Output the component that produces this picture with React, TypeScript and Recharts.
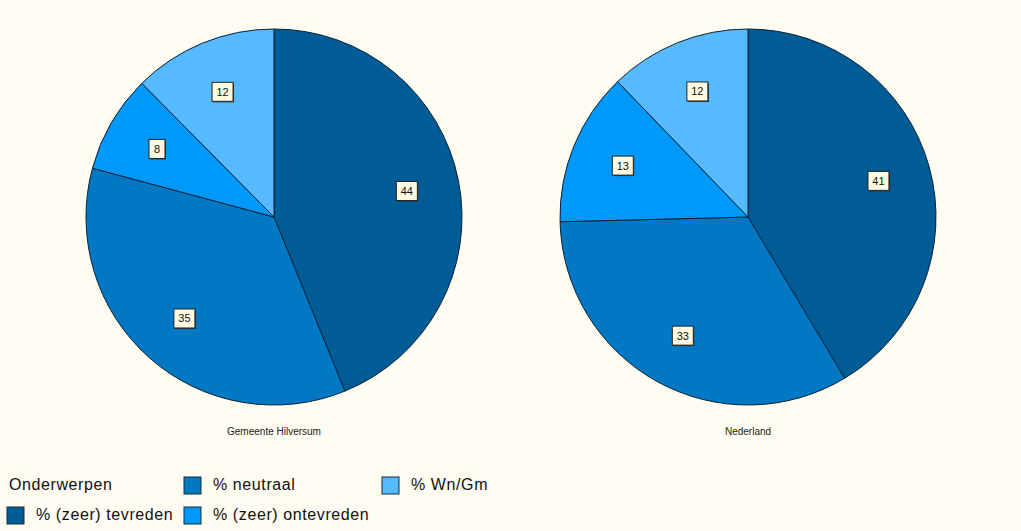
import React from "react";
import { PieChart, Pie, Cell, Legend } from "recharts";

const categories = ["% (zeer) tevreden", "% neutraal", "% (zeer) ontevreden", "% Wn/Gm"];
// shares; labels show them rounded
const hilversumValues = [43.8, 35.3, 8.4, 12.4];
const nederlandValues = [41.4, 33.2, 13.2, 12.2];
const panelTitles = ["Gemeente Hilversum", "Nederland"];
const legendTitle = "Onderwerpen";
const colors = ["#005C97", "#0078C4", "#0099FA", "#55BAFF"];

const hilversumData = categories.map((name, i) => ({ name, value: hilversumValues[i] }));
const nederlandData = categories.map((name, i) => ({ name, value: nederlandValues[i] }));

const RAD = Math.PI / 180;

const renderLabel = (props: any) => {
  const { cx, cy, midAngle, outerRadius, value } = props;
  const r = outerRadius * 0.72;
  const x = cx + r * Math.cos(-midAngle * RAD);
  const y = cy + r * Math.sin(-midAngle * RAD);
  const txt = String(Math.round(value));
  const w = txt.length > 1 ? 21 : 16;
  const h = 19;
  return (
    <g>
      <rect x={x - w / 2 + 1} y={y - h / 2 + 1} width={w} height={h} fill="#333" />
      <rect x={x - w / 2} y={y - h / 2} width={w} height={h} fill="#FFFBE3" stroke="#222" strokeWidth={1} />
      <text x={x} y={y + 4} textAnchor="middle" fontSize={11} fontFamily="Liberation Sans, Arial, sans-serif" fill="#111">
        {txt}
      </text>
    </g>
  );
};

const legendFont = "Liberation Sans, Arial, sans-serif";

const LegendContent = () => {
  const items = [
    { x: 184, y: 477, c: 1 },
    { x: 382, y: 477, c: 3 },
    { x: 7, y: 507, c: 0 },
    { x: 184, y: 507, c: 2 },
  ];
  return (
    <svg width={1021} height={80} style={{ position: "absolute", left: 0, top: 0, overflow: "visible" }}>
      <text x={9} y={490} fontSize={16} letterSpacing={0.6} fontFamily={legendFont} fill="#111">{legendTitle}</text>
      {items.map((it) => (
        <g key={it.c}>
          <rect x={it.x} y={it.y} width={17} height={17} fill={colors[it.c]} stroke="#1a2a3a" strokeWidth={1} />
          <text x={it.x + 29} y={it.y + 13} fontSize={16} letterSpacing={0.6} fontFamily={legendFont} fill="#111">
            {categories[it.c]}
          </text>
        </g>
      ))}
    </svg>
  );
};

export default function App() {
  return (
    <div style={{ position: "absolute", left: 0, top: 0, width: 1021, height: 531, background: "#FFFCF2" }}>
      <PieChart width={1021} height={531} margin={{ top: 0, right: 0, bottom: 0, left: 0 }}>
        <Pie
          data={hilversumData}
          dataKey="value"
          nameKey="name"
          cx={274}
          cy={217}
          outerRadius={188}
          startAngle={90}
          endAngle={-270}
          stroke="#0B2236"
          strokeWidth={1}
          label={renderLabel}
          labelLine={false}
          isAnimationActive={false}
        >
          {hilversumData.map((d, i) => (
            <Cell key={d.name} fill={colors[i]} />
          ))}
        </Pie>
        <Pie
          data={nederlandData}
          dataKey="value"
          nameKey="name"
          cx={748}
          cy={217}
          outerRadius={188}
          startAngle={90}
          endAngle={-270}
          stroke="#0B2236"
          strokeWidth={1}
          label={renderLabel}
          labelLine={false}
          isAnimationActive={false}
        >
          {nederlandData.map((d, i) => (
            <Cell key={d.name} fill={colors[i]} />
          ))}
        </Pie>
        <Legend content={<LegendContent />} wrapperStyle={{ left: 0, top: 0, width: 1021, height: 0 }} />
      </PieChart>
      <div style={{ position: "absolute", left: 274 - 100, top: 426, width: 200, textAlign: "center", fontSize: 10, fontFamily: legendFont, color: "#222" }}>
        {panelTitles[0]}
      </div>
      <div style={{ position: "absolute", left: 748 - 100, top: 426, width: 200, textAlign: "center", fontSize: 10, fontFamily: legendFont, color: "#222" }}>
        {panelTitles[1]}
      </div>
    </div>
  );
}
